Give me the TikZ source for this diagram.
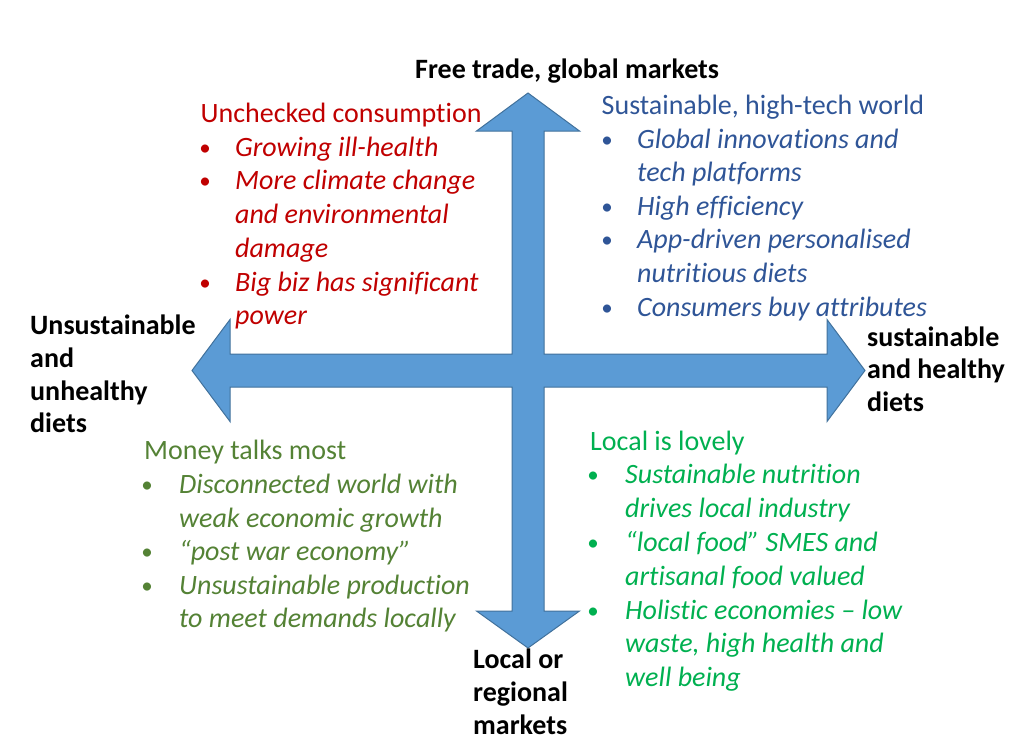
\documentclass[tikz,border=0pt]{standalone}
\usepackage{fontspec}
\setmainfont[Ligatures={NoCommon,NoRare,NoContextual}]{Carlito}
\definecolor{arrfill}{HTML}{5B9BD5}
\definecolor{arrline}{HTML}{41719C}
\definecolor{redt}{HTML}{C00000}
\definecolor{bluet}{HTML}{2F5597}
\definecolor{dkgreen}{HTML}{548235}
\definecolor{brgreen}{HTML}{00B050}
\begin{document}
\begin{tikzpicture}[x=1pt,y=-1pt,
  txt/.style={inner sep=0pt, anchor=base west, font=\fontsize{28}{34}\selectfont},
  itm/.style={txt, font=\fontsize{28}{34}\selectfont\itshape},
  bul/.style={inner sep=0pt, anchor=base, font=\fontsize{23}{34}\selectfont},
  lbl/.style={txt, font=\fontsize{28}{34}\selectfont\bfseries, text=black},
  cross/.style={fill=arrfill, draw=arrline, line width=1pt, line join=miter}]
\useasboundingbox (0,0) rectangle (1024,739);
% cross-shaped double arrows
\draw[cross] (528,93) -- (579.5,131) -- (544,131) -- (544,354) -- (827,354) -- (827,319.5)
  -- (865,370.5) -- (827,421.5) -- (827,387) -- (544,387) -- (544,611) -- (579.5,611)
  -- (528,648) -- (476.5,611) -- (512,611) -- (512,387) -- (230,387) -- (230,421.5)
  -- (192,370.5) -- (230,319.5) -- (230,354) -- (512,354) -- (512,131) -- (476.5,131) -- cycle;
% axis labels
\node[lbl] (top) at (415,78) {Free trade, global markets};
\node[lbl] (l1) at (30,334) {Unsustainable};
\node[lbl] (l2) at (30,367) {and};
\node[lbl] (l3) at (30,400) {unhealthy};
\node[lbl] (l4) at (30,432) {diets};
\node[lbl] (r1) at (867,346) {sustainable};
\node[lbl] (r2) at (867,378.5) {and healthy};
\node[lbl] (r3) at (867,411.5) {diets};
\node[lbl] (b1) at (473,668.5) {Local or};
\node[lbl] (b2) at (473,701.5) {regional};
\node[lbl] (b3) at (473,734) {markets};
% top-left quadrant
\begin{scope}[text=redt]
\node[txt] (ucH) at (200.5,122) {Unchecked consumption};
\node[bul] (ucB1) at (205,155) {•};
\node[itm] (uc1) at (235,156) {Growing ill-health};
\node[bul] (ucB2) at (205,188.5) {•};
\node[itm] (uc2) at (235,189.5) {More climate change};
\node[itm] (uc2b) at (235,223) {and environmental};
\node[itm] (uc2c) at (235,257) {damage};
\node[bul] (ucB3) at (205,290) {•};
\node[itm] (uc3) at (235,291) {Big biz has significant};
\node[itm] (uc3b) at (235,324.5) {power};
\end{scope}
% top-right quadrant
\begin{scope}[text=bluet]
\node[txt] (stH) at (601.5,114) {Sustainable, high-tech world};
\node[bul] (stB1) at (607,147) {•};
\node[itm] (st1) at (637,148) {Global innovations and};
\node[itm] (st1b) at (637,181) {tech platforms};
\node[bul] (stB2) at (607,214) {•};
\node[itm] (st2) at (637,215) {High efficiency};
\node[bul] (stB3) at (607,247) {•};
\node[itm] (st3) at (637,248) {App-driven personalised};
\node[itm] (st3b) at (637,282) {nutritious diets};
\node[bul] (stB4) at (607,315) {•};
\node[itm] (st4) at (637,316) {Consumers buy attributes};
\end{scope}
% bottom-left quadrant
\begin{scope}[text=dkgreen]
\node[txt] (mtH) at (144,459.5) {Money talks most};
\node[bul] (mtB1) at (147,492.5) {•};
\node[itm] (mt1) at (179,493.5) {Disconnected world with};
\node[itm] (mt1b) at (179,527) {weak economic growth};
\node[bul] (mtB2) at (147,559) {•};
\node[itm] (mt2) at (179,560) {“post war economy”};
\node[bul] (mtB3) at (147,593) {•};
\node[itm] (mt3) at (179,594) {Unsustainable production};
\node[itm] (mt3b) at (179,627.5) {to meet demands locally};
\end{scope}
% bottom-right quadrant
\begin{scope}[text=brgreen]
\node[txt] (llH) at (590,450.5) {Local is lovely};
\node[bul] (llB1) at (593,482.5) {•};
\node[itm] (ll1) at (625,483.5) {Sustainable nutrition};
\node[itm] (ll1b) at (625,517.5) {drives local industry};
\node[bul] (llB2) at (593,550) {•};
\node[itm] (ll2) at (625,551) {“local food” SMES and};
\node[itm] (ll2b) at (625,585) {artisanal food valued};
\node[bul] (llB3) at (593,618) {•};
\node[itm] (ll3) at (625,619) {Holistic economies – low};
\node[itm] (ll3b) at (625,652.5) {waste, high health and};
\node[itm] (ll3c) at (625,686) {well being};
\end{scope}
\end{tikzpicture}
\end{document}
